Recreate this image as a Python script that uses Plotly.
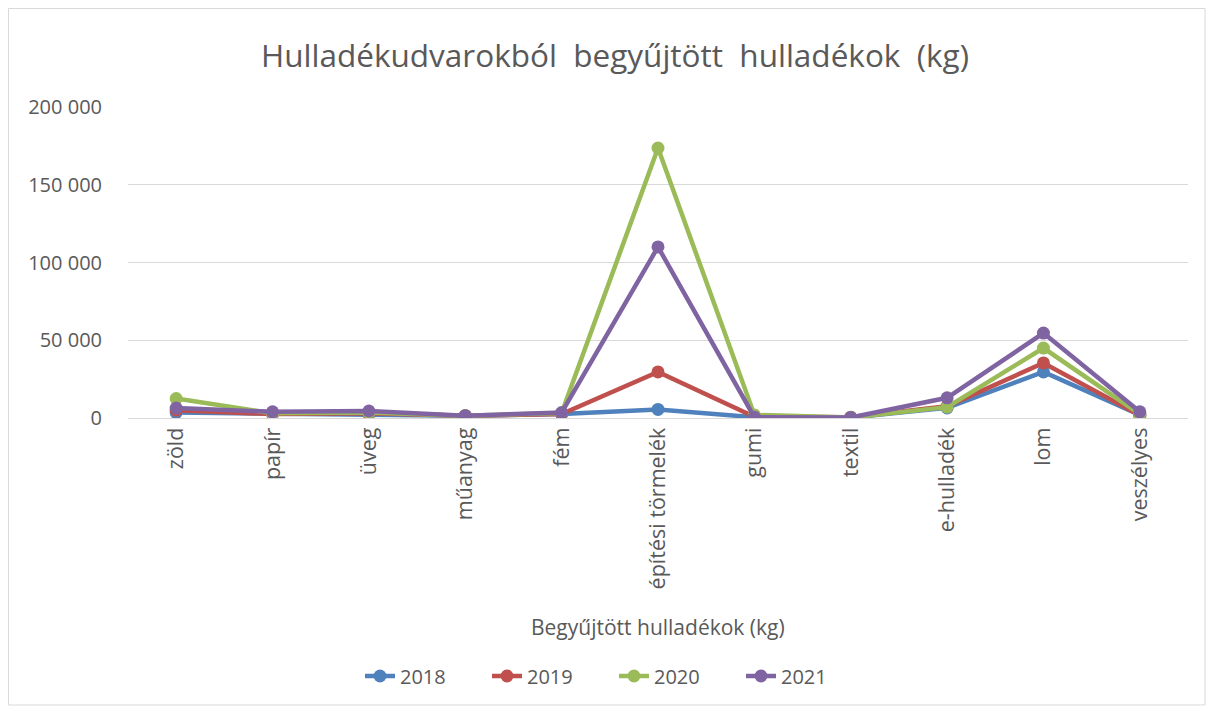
import plotly.graph_objects as go

categories = ["zöld", "papír", "üveg", "műanyag", "fém", "építési törmelék",
              "gumi", "textil", "e-hulladék", "lom", "veszélyes"]
y2018 = [3500, 3000, 2500, 1500, 2500, 5500, 500, 300, 6500, 29600, 2000]
y2019 = [5000, 2500, 3000, 1500, 2500, 29600, 800, 500, 7500, 35400, 1800]
y2020 = [12500, 3000, 3500, 1500, 3200, 173600, 2000, 300, 7000, 45000, 2500]
y2021 = [6400, 4000, 4500, 1500, 3500, 110000, 500, 300, 13000, 54600, 4000]
years = ["2018", "2019", "2020", "2021"]
colors = ["#4F81BD", "#C0504D", "#9BBB59", "#8064A2"]

font = "Open Sans"
gray = "#595959"

L, R, T, B = 120, 34, 99, 301
W, H = 1214, 711
pw = W - L - R
ph = H - T - B


def px_x(x):
    return (x - L) / pw


def px_y(y):
    return (H - B - y) / ph


fig = go.Figure()
for name, vals, c in zip(years, [y2018, y2019, y2020, y2021], colors):
    fig.add_trace(go.Scatter(x=categories, y=vals, name=name, mode="lines+markers",
                             line=dict(color=c, width=4.5),
                             marker=dict(color=c, size=13)))

fig.update_layout(
    width=W, height=H,
    margin=dict(l=L, r=R, t=T, b=B),
    paper_bgcolor="white", plot_bgcolor="white",
    separators=", ",
    font=dict(family=font, color=gray, size=20),
    title=dict(text="Hulladékudvarokból  begyűjtött  hulladékok  (kg)",
               x=0.5, xanchor="center", y=1 - 48 / H, yanchor="middle",
               font=dict(size=31.5, color=gray, family=font)),
    showlegend=True,
    legend=dict(orientation="h", x=px_x(352), xanchor="left", y=px_y(668), yanchor="middle",
                font=dict(size=20, color=gray), entrywidth=82, entrywidthmode="pixels"),
    xaxis=dict(tickangle=-90, showgrid=False, showline=True, linecolor="#D9D9D9",
               linewidth=1, ticks="", tickfont=dict(size=21.5, color=gray),
               range=[-0.5, 10.5]),
    yaxis=dict(range=[0, 200000], dtick=50000, tickformat=",d", showline=False,
               gridcolor="#D9D9D9", gridwidth=1, zeroline=False, ticks="",
               tickfont=dict(size=20, color=gray), ticklabelstandoff=25),
    annotations=[dict(text="Begyűjtött hulladékok (kg)", xref="paper", yref="paper",
                      x=0.5, y=px_y(619), xanchor="center", yanchor="middle",
                      showarrow=False, font=dict(size=21, color=gray))],
    shapes=[dict(type="rect", xref="paper", yref="paper",
                 x0=px_x(0.5), x1=px_x(1197), y0=px_y(697), y1=px_y(0.5),
                 line=dict(color="#D9D9D9", width=1), fillcolor="rgba(0,0,0,0)")],
)

fig.write_html("out.html")
